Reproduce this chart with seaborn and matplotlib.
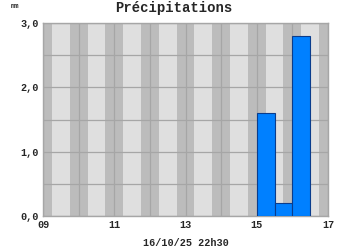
import numpy as np
import pandas as pd
import matplotlib
matplotlib.use("Agg")
import matplotlib.pyplot as plt
import seaborn as sns

# Data
interval_start = [15.0, 15.5, 16.0]   # hour of day (start of 30-min interval)
precip_mm = [1.6, 0.2, 2.8]
hours = list(range(9, 18))
xtick_vals = [9, 11, 13, 15, 17]
xtick_labels = ["09", "11", "13", "15", "17"]
ytick_vals = [0, 1, 2, 3]
ytick_labels = ["0,0", "1,0", "2,0", "3,0"]
title = "Précipitations"
unit = "mm"
xlabel = "16/10/25 22h30"

sns.set_theme(style="white")
plt.rcParams["font.family"] = ["Liberation Mono", "DejaVu Sans Mono"]

fig = plt.figure(figsize=(3.5, 2.5), dpi=100)
ax = fig.add_axes([43/350, 34/250, 285/350, 193/250])

ax.set_facecolor("#DFDFDF")
for h in hours:
    ax.axvspan(h - 0.25, h + 0.25, color="#BCBCBC", lw=0, zorder=0)

df = pd.DataFrame({"start": interval_start, "mm": precip_mm})
sns.histplot(data=df, x="start", weights="mm", binwidth=0.5,
             binrange=(15.0, 16.5), ax=ax, color="#0080FF", alpha=1,
             edgecolor="#0A3C8C", linewidth=0.8, zorder=3)

ax.set_xlim(9, 17)
ax.set_ylim(0, 3)
ax.set_xticks(hours, minor=True)
ax.set_yticks(np.arange(0, 3.01, 0.5), minor=True)
ax.set_xticks(xtick_vals)
ax.set_xticklabels(xtick_labels)
ax.set_yticks(ytick_vals)
ax.set_yticklabels(ytick_labels)
ax.grid(True, which="both", color="#A6A6A6", lw=0.9, zorder=1)
ax.set_axisbelow(True)
ax.tick_params(which="both", length=0, labelsize=7.3, pad=3)
for lab in ax.get_xticklabels() + ax.get_yticklabels():
    lab.set_fontweight("bold")
for s in ax.spines.values():
    s.set_color("#A6A6A6")
    s.set_linewidth(1)

ax.set_xlabel(xlabel, fontsize=7.3, fontweight="bold", labelpad=6)
ax.set_ylabel("")
fig.text(174/350, 1 - 8/250, title, ha="center", va="center",
         fontsize=10, fontweight="bold")
fig.text(15/350, 1 - 6/250, unit, ha="center", va="center",
         fontsize=5, fontweight="bold")

fig.savefig("out.png", dpi=100)
